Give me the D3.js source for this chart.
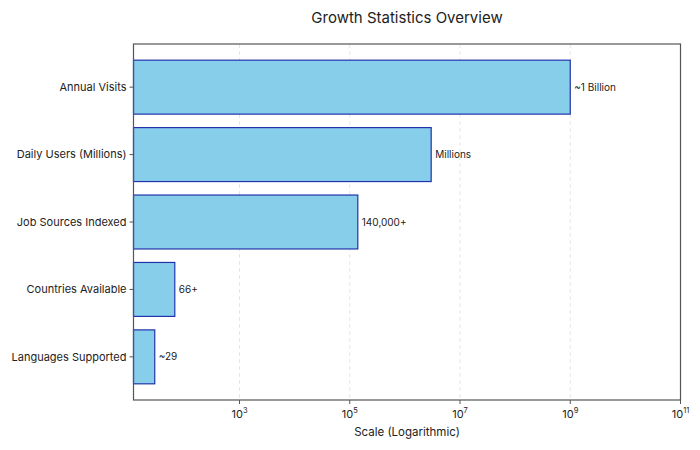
<!DOCTYPE html>
<html>
<head>
<meta charset="utf-8">
<script src="https://cdn.jsdelivr.net/npm/d3@7"></script>
<style>
  body { margin: 0; background: #fff; }
  svg { font-family: Inter, "Open Sans", "DejaVu Sans", sans-serif; }
</style>
</head>
<body>
<svg id="chart" width="700" height="450"></svg>
<script>
const categories = ["Annual Visits", "Daily Users (Millions)", "Job Sources Indexed", "Countries Available", "Languages Supported"];
const values = [1e9, 3e6, 140000, 67, 29];
const valueLabels = ["~1 Billion", "Millions", "140,000+", "66+", "~29"];
const tickValues = [1e3, 1e5, 1e7, 1e9, 1e11];
const tickExponents = ["3", "5", "7", "9", "11"];

const svg = d3.select("#chart");
const m = { left: 133.5, right: 680.5, top: 44, bottom: 400 };

const x = d3.scaleLog().domain([Math.pow(10, 1.077), 1e11]).range([m.left, m.right]);
// band positions mimic matplotlib: bars height 0.8, margins 5%
const y = d3.scaleLinear().domain([-0.64, 4.64]).range([m.top, m.bottom]);

// grid
svg.append("g").selectAll("line").data(tickValues.slice(0, 4)).join("line")
  .attr("x1", d => x(d)).attr("x2", d => x(d))
  .attr("y1", m.top).attr("y2", m.bottom)
  .attr("stroke", "#e0e0e0").attr("stroke-width", 0.8)
  .attr("stroke-dasharray", "4,3");

// bars
svg.append("g").selectAll("rect").data(categories).join("rect")
  .attr("x", x.range()[0])
  .attr("y", (d, i) => y(i - 0.4))
  .attr("width", (d, i) => x(values[i]) - x.range()[0])
  .attr("height", (d, i) => y(i + 0.4) - y(i - 0.4))
  .attr("fill", "#87CEEB")
  .attr("stroke", "#2233aa")
  .attr("stroke-width", 1.2);

// value labels
svg.append("g").selectAll("text").data(valueLabels).join("text")
  .attr("x", (d, i) => x(values[i]) + 4)
  .attr("y", (d, i) => y(i))
  .attr("dy", "0.35em")
  .attr("font-size", 10)
  .attr("fill", "#222")
  .text(d => d);

// frame
svg.append("rect")
  .attr("x", m.left).attr("y", m.top)
  .attr("width", m.right - m.left).attr("height", m.bottom - m.top)
  .attr("fill", "none").attr("stroke", "#555").attr("stroke-width", 1.2);

// y axis ticks and labels
const yg = svg.append("g");
categories.forEach((c, i) => {
  yg.append("line").attr("x1", m.left - 4).attr("x2", m.left)
    .attr("y1", y(i)).attr("y2", y(i)).attr("stroke", "#555");
  yg.append("text").attr("x", m.left - 7).attr("y", y(i)).attr("dy", "0.35em")
    .attr("text-anchor", "end").attr("font-size", 11).attr("fill", "#222").text(c);
});

// x axis ticks and labels
const xg = svg.append("g");
tickValues.forEach((t, i) => {
  xg.append("line").attr("x1", x(t)).attr("x2", x(t))
    .attr("y1", m.bottom).attr("y2", m.bottom + 4).attr("stroke", "#555");
  const tx = xg.append("text").attr("x", x(t)).attr("y", m.bottom + 18)
    .attr("text-anchor", "middle").attr("font-size", 11).attr("fill", "#222");
  tx.append("tspan").text("10");
  tx.append("tspan").attr("dy", -5).attr("font-size", 7.5).text(tickExponents[i]);
});

svg.append("text").attr("x", (m.left + m.right) / 2).attr("y", 436)
  .attr("text-anchor", "middle").attr("font-size", 11.5).attr("fill", "#222")
  .text("Scale (Logarithmic)");

svg.append("text").attr("x", (m.left + m.right) / 2).attr("y", 23)
  .attr("text-anchor", "middle").attr("font-size", 15).attr("fill", "#222")
  .text("Growth Statistics Overview");
</script>
</body>
</html>
